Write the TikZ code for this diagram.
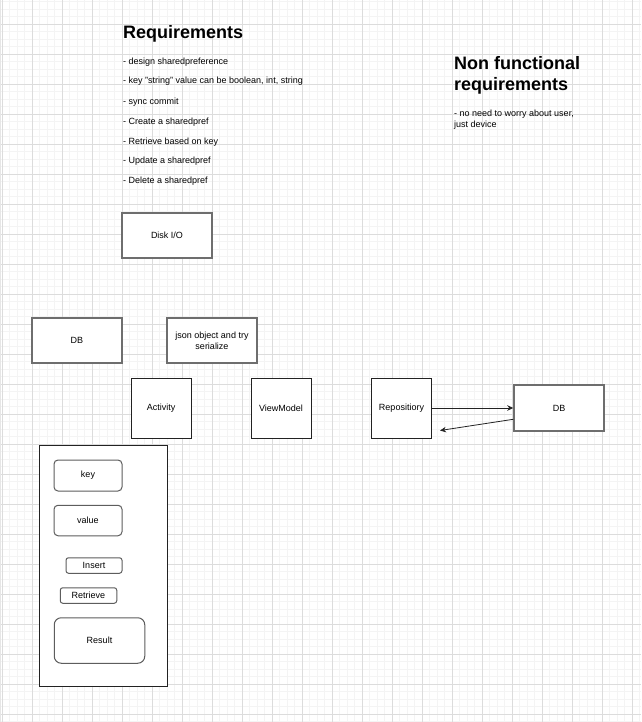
\documentclass[tikz,border=0pt]{standalone}
\usepackage{fontspec}
\setmainfont{Liberation Sans}
\usetikzlibrary{arrows.meta}
\definecolor{gmin}{HTML}{F4F4F4}
\definecolor{gmaj}{HTML}{DCDCDC}
\definecolor{gbord}{HTML}{6E6E6E}
\definecolor{dbord}{HTML}{222222}
\begin{document}
\begin{tikzpicture}[x=1pt,y=-1pt,
  minorln/.style={draw=gmin,line width=0.7pt},
  majorln/.style={draw=gmaj,line width=0.9pt},
  graybox/.style={draw=gbord,line width=1.5pt,fill=white,inner sep=0pt,font=\fontsize{9}{10.8}\selectfont,align=center},
  blackbox/.style={draw=dbord,line width=0.9pt,fill=white,inner sep=0pt,font=\fontsize{9}{10.8}\selectfont,align=center},
  rbox/.style={draw=gbord!85!black,line width=1pt,fill=white,rounded corners=#1,inner sep=0pt,font=\fontsize{9}{10.8}\selectfont,align=center},
  rbox/.default=4pt,
  req/.style={anchor=base west,inner sep=0pt,font=\fontsize{9}{10.8}\selectfont},
  head/.style={anchor=base west,inner sep=0pt,font=\fontsize{18}{21}\selectfont\bfseries},
  arr/.style={draw=dbord,line width=0.8pt,-{Stealth[length=6pt,width=5.5pt]}}
]
\useasboundingbox (0,0) rectangle (641,722);
\fill[white] (0,0) rectangle (641,722);
% grid
\foreach \i in {0,...,85} {\draw[minorln] ({2.3+7.5*\i},0) -- ++(0,722);}
\foreach \i in {0,...,96} {\draw[minorln] (0,{1.8+7.5*\i}) -- ++(641,0);}
\foreach \i in {0,...,21} {\draw[majorln] ({2.3+30*\i},0) -- ++(0,722);}
\foreach \i in {0,...,23} {\draw[majorln] (0,{24.3+30*\i}) -- ++(641,0);}
\draw[draw=gmaj!70,line width=1pt] (0.5,0) -- (0.5,722);

% requirements text
\node[head] (reqh) at (123,39) {Requirements};
\node[req] (r1) at (123,65) {- design sharedpreference};
\node[req] (r2) at (123,84) {- key "string" value can be boolean, int, string};
\node[req] (r3) at (123,104.3) {- sync commit};
\node[req] (r4) at (123,124.3) {- Create a sharedpref};
\node[req] (r5) at (123,144.3) {- Retrieve based on key};
\node[req] (r6) at (123,164) {- Update a sharedpref};
\node[req] (r7) at (123,183.3) {- Delete a sharedpref};

\node[head] (nfh1) at (454,69.3) {Non functional};
\node[head] (nfh2) at (454,90.3) {requirements};
\node[req] (nf1) at (454,116.5) {- no need to worry about user,};
\node[req] (nf2) at (454,127.3) {just device};

% boxes
\node[graybox,minimum width=90pt,minimum height=45pt] (disk) at (167,235.5) {Disk I/O};
\node[graybox,minimum width=90pt,minimum height=45pt] (db1) at (77,340.5) {DB};
\node[graybox,minimum width=90pt,minimum height=45pt] (json) at (212,340.5) {json object and try\\serialize};
\node[blackbox,minimum width=60pt,minimum height=60pt] (act) at (161,408) {Activity};
\node[blackbox,minimum width=60pt,minimum height=60pt] (vm) at (281,408) {ViewModel};
\node[blackbox,minimum width=60pt,minimum height=60pt] (repo) at (401.5,408) {Repositiory};
\node[graybox,minimum width=90pt,minimum height=46pt] (db2) at (559,408) {DB};
\coordinate (ret) at (440,430.5);
\draw[arr] (repo.east) -- (db2.west);
\draw[arr] ([yshift=-11.3pt]db2.west) -- (ret);

% panel
\node[blackbox,minimum width=128pt,minimum height=241pt] (panel) at (103,565.5) {};
\node[rbox,minimum width=68pt,minimum height=31pt] (key) at (88,475.5) {key};
\node[rbox,minimum width=68pt,minimum height=30.5pt] (val) at (88,520.5) {value};
\node[rbox=2.5pt,minimum width=56pt,minimum height=15.5pt] (ins) at (94,565.5) {Insert};
\node[rbox=2.5pt,minimum width=56.5pt,minimum height=15.5pt] (retr) at (88.5,595.5) {Retrieve};
\node[rbox=7pt,minimum width=90.5pt,minimum height=45.5pt] (res) at (99.5,640.5) {Result};
\end{tikzpicture}
\end{document}
